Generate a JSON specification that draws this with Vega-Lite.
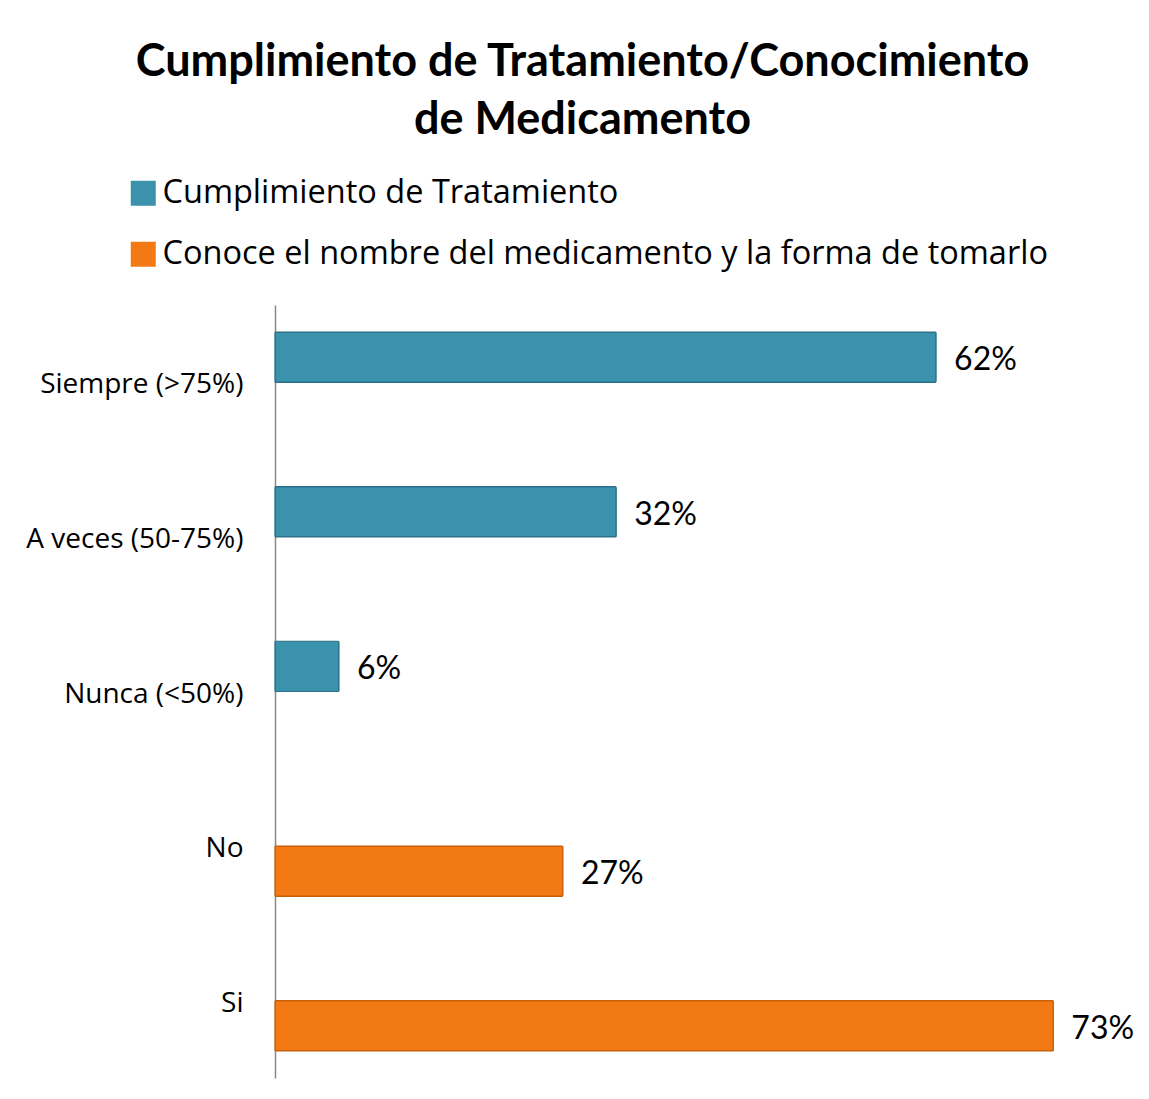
{
  "$schema": "https://vega.github.io/schema/vega-lite/v6.json",
  "width": 853,
  "height": 773,
  "autosize": {"type": "none"},
  "padding": {"left": 275, "top": 305, "right": 21, "bottom": 21},
  "background": "white",
  "config": {"view": {"stroke": null}},
  "title": {
    "text": ["Cumplimiento de Tratamiento/Conocimiento", "de Medicamento"],
    "font": "Lato",
    "fontSize": 45,
    "fontWeight": "bold",
    "lineHeight": 58,
    "color": "#000000",
    "anchor": "middle",
    "frame": "group",
    "dx": -119,
    "offset": 34
  },
  "data": {
    "values": [
      {"categoria": "Siempre (>75%)", "serie": "Cumplimiento de Tratamiento", "valor": 62, "etiqueta": "62%"},
      {"categoria": "A veces (50-75%)", "serie": "Cumplimiento de Tratamiento", "valor": 32, "etiqueta": "32%"},
      {"categoria": "Nunca (<50%)", "serie": "Cumplimiento de Tratamiento", "valor": 6, "etiqueta": "6%"},
      {"categoria": "No", "serie": "Conoce el nombre del medicamento y la forma de tomarlo", "valor": 27, "etiqueta": "27%"},
      {"categoria": "Si", "serie": "Conoce el nombre del medicamento y la forma de tomarlo", "valor": 73, "etiqueta": "73%"}
    ]
  },
  "encoding": {
    "y": {
      "field": "categoria",
      "type": "nominal",
      "sort": ["Siempre (>75%)", "A veces (50-75%)", "Nunca (<50%)", "No", "Si"],
      "scale": {"paddingInner": 0.35, "paddingOuter": 0.175},
      "axis": {
        "title": null,
        "ticks": false,
        "grid": false,
        "domain": true,
        "domainColor": "#888888",
        "domainWidth": 1.5,
        "labelFont": "Open Sans",
        "labelFontSize": 28,
        "labelColor": "#000000",
        "labelPadding": 32,
        "labelLimit": 400,
        "labelOffset": 3
      }
    },
    "yOffset": {
      "field": "serie",
      "type": "nominal",
      "scale": {
        "domain": ["Cumplimiento de Tratamiento", "Conoce el nombre del medicamento y la forma de tomarlo"],
        "paddingInner": 0,
        "paddingOuter": 0
      }
    },
    "x": {
      "field": "valor",
      "type": "quantitative",
      "scale": {"domain": [0, 80], "nice": false},
      "axis": null
    }
  },
  "layer": [
    {
      "mark": {"type": "bar", "strokeWidth": 1.2, "cornerRadius": 1},
      "encoding": {
        "color": {
          "field": "serie",
          "type": "nominal",
          "scale": {
            "domain": ["Cumplimiento de Tratamiento", "Conoce el nombre del medicamento y la forma de tomarlo"],
            "range": ["#3A92AC", "#F27913"]
          },
          "legend": {
            "orient": "none",
            "legendX": -148,
            "legendY": -128,
            "title": null,
            "symbolType": "square",
            "symbolSize": 625,
            "symbolStrokeWidth": 0,
            "labelFont": "Open Sans",
            "labelFontSize": 32.5,
            "labelColor": "#000000",
            "labelOffset": 3,
            "labelLimit": 1000,
            "rowPadding": 28
          }
        },
        "stroke": {
          "field": "serie",
          "type": "nominal",
          "scale": {
            "domain": ["Cumplimiento de Tratamiento", "Conoce el nombre del medicamento y la forma de tomarlo"],
            "range": ["#2A7187", "#C65F0A"]
          },
          "legend": null
        }
      }
    },
    {
      "mark": {"type": "text", "align": "left", "baseline": "middle", "dx": 18, "dy": 3, "font": "Lato", "fontSize": 32, "color": "#000000"},
      "encoding": {
        "text": {"field": "etiqueta", "type": "nominal"}
      }
    }
  ]
}
